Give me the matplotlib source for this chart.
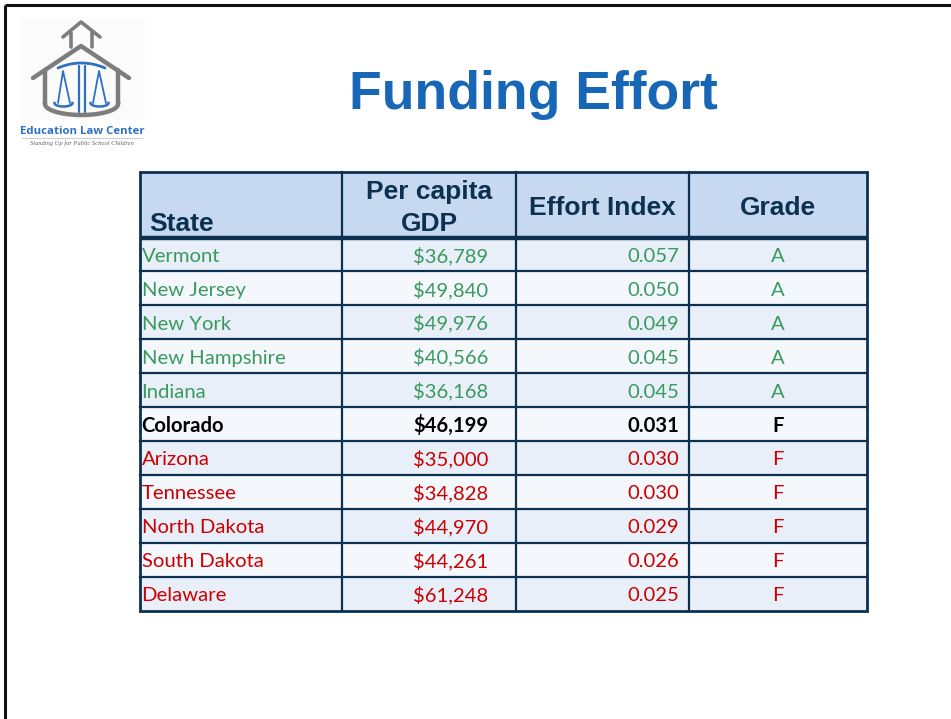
import matplotlib
matplotlib.use("Agg")
import matplotlib.pyplot as plt
from matplotlib.patches import Rectangle
import numpy as np

# ---- data ----
title = "Funding Effort"
headers = ["State", "Per capita\nGDP", "Effort Index", "Grade"]
states = ["Vermont", "New Jersey", "New York", "New Hampshire", "Indiana",
          "Colorado", "Arizona", "Tennessee", "North Dakota", "South Dakota", "Delaware"]
gdp = ["$36,789", "$49,840", "$49,976", "$40,566", "$36,168",
       "$46,199", "$35,000", "$34,828", "$44,970", "$44,261", "$61,248"]
effort = ["0.057", "0.050", "0.049", "0.045", "0.045",
          "0.031", "0.030", "0.030", "0.029", "0.026", "0.025"]
grades = ["A", "A", "A", "A", "A", "F", "F", "F", "F", "F", "F"]
highlight = "Colorado"

# ---- style ----
W, H = 951, 719
NAVY = "#0c3150"
GREEN = "#3a9a5e"
RED = "#cc0000"
HEAD_FILL = "#c6d9f0"
ROW_A = "#e9eff8"
ROW_B = "#f4f7fc"
TITLE_BLUE = "#1767b6"
LOGO_BLUE = "#2e70c2"
LOGO_GRAY = "#7d7d7d"

fig = plt.figure(figsize=(W / 100, H / 100), dpi=100)
ax = fig.add_axes([0, 0, 1, 1])
ax.set_xlim(0, W)
ax.set_ylim(H, 0)
ax.axis("off")

# slide frame
ax.plot([5, W], [5, 5], color="#111111", lw=2.2, solid_capstyle="butt")
ax.plot([5, 5], [5, H], color="#111111", lw=2.2, solid_capstyle="butt")

# ---- logo ----
ax.add_patch(Rectangle((20, 18), 125, 102, facecolor="#fbfbfb", edgecolor="none", zorder=0))

def seg(xs, ys, c, lw):
    ax.plot(xs, ys, color=c, lw=lw, solid_capstyle="round", solid_joinstyle="round")

# bell tower
seg([63, 81, 100], [37, 22, 37], LOGO_GRAY, 2.6)
seg([71, 71], [33, 47], LOGO_GRAY, 2.6)
seg([92, 92], [33, 47], LOGO_GRAY, 2.6)
# main roof + walls
seg([33, 81, 129], [78, 46, 78], LOGO_GRAY, 3.2)
seg([45, 45], [70, 104], LOGO_GRAY, 3.2)
seg([118, 118], [70, 104], LOGO_GRAY, 3.2)
ang = np.linspace(np.pi, 2 * np.pi, 40)
ax.plot(81.5 + 36.5 * np.cos(ang), 104 - 11 * np.sin(ang), color=LOGO_GRAY, lw=3.2)
# scales
bx = np.linspace(58, 105, 40)
seg(bx, 68 - 5 * (1 - ((bx - 81.5) / 23.5) ** 2), LOGO_BLUE, 2.0)
seg([79, 79], [66, 112], LOGO_BLUE, 1.6)
seg([85, 85], [66, 112], LOGO_BLUE, 1.6)
seg([58, 63, 70], [103, 71, 103], LOGO_BLUE, 1.3)
seg([93, 99, 106], [103, 71, 103], LOGO_BLUE, 1.3)
pa = np.linspace(0, np.pi, 30)
ax.plot(63.5 + 9 * np.cos(pa), 103 + 3.5 * np.sin(pa), color=LOGO_BLUE, lw=1.8)
ax.plot(99.5 + 9 * np.cos(pa), 103 + 3.5 * np.sin(pa), color=LOGO_BLUE, lw=1.8)
ax.text(82, 131, "Education Law Center", ha="center", va="center",
        fontsize=8.2, fontweight="bold", color=LOGO_BLUE, family="Open Sans")
ax.plot([22, 142], [137.5, 137.5], color="#cfcfcf", lw=0.8)
ax.text(82, 143, "Standing Up for Public School Children", ha="center", va="center",
        fontsize=4.7, style="italic", color="#666666", family="Liberation Serif")

# ---- title ----
ax.text(533, 109, title, ha="center", va="baseline", fontsize=38.5,
        fontweight="bold", color=TITLE_BLUE, family="Liberation Sans")

# ---- table ----
col_x = [140, 342, 516, 689, 867]
top, head_bot, bottom = 172, 237.5, 610.5
n = len(states)
rh = (bottom - head_bot) / n

ax.add_patch(Rectangle((col_x[0], top), col_x[-1] - col_x[0], head_bot - top,
                       facecolor=HEAD_FILL, edgecolor="none", zorder=1))
for i in range(n):
    y0 = head_bot + i * rh
    ax.add_patch(Rectangle((col_x[0], y0), col_x[-1] - col_x[0], rh,
                           facecolor=ROW_A if i % 2 == 0 else ROW_B,
                           edgecolor="none", zorder=1))

# grid lines
for i in range(1, n):
    y = head_bot + i * rh
    ax.plot([col_x[0], col_x[-1]], [y, y], color=NAVY, lw=1.6, zorder=3)
for x in col_x[1:-1]:
    ax.plot([x, x], [top, bottom], color=NAVY, lw=1.6, zorder=3)
ax.plot([col_x[0], col_x[-1]], [head_bot, head_bot], color=NAVY, lw=3.2, zorder=4,
        solid_capstyle="butt")
ax.add_patch(Rectangle((col_x[0], top), col_x[-1] - col_x[0], bottom - top,
                       facecolor="none", edgecolor=NAVY, lw=2.0, zorder=4))

# header text
hfs = 19
hkw = dict(fontsize=hfs, fontweight="bold", color=NAVY, family="Liberation Sans",
           va="baseline", zorder=5)
ax.text(149, 231, headers[0], ha="left", **hkw)
ax.text((col_x[1] + col_x[2]) / 2, 199.5, headers[1].split("\n")[0], ha="center", **hkw)
ax.text((col_x[1] + col_x[2]) / 2, 231, headers[1].split("\n")[1], ha="center", **hkw)
ax.text((col_x[2] + col_x[3]) / 2, 215, headers[2], ha="center", **hkw)
ax.text((col_x[3] + col_x[4]) / 2, 215, headers[3], ha="center", **hkw)

# body text
bfs = 14.6
for i, (s, g, e, gr) in enumerate(zip(states, gdp, effort, grades)):
    yb = head_bot + i * rh + 24.5
    if s == highlight:
        c, w = "black", "bold"
    else:
        c, w = (GREEN if gr == "A" else RED), "normal"
    kw = dict(fontsize=bfs, color=c, fontweight=w, family="Lato", va="baseline", zorder=5)
    ax.text(141.5, yb, s, ha="left", **kw)
    ax.text(488, yb, g, ha="right", **kw)
    ax.text(679.5, yb, e, ha="right", **kw)
    ax.text((col_x[3] + col_x[4]) / 2, yb, gr, ha="center", **kw)

fig.savefig("out.png", dpi=100, facecolor="white")
